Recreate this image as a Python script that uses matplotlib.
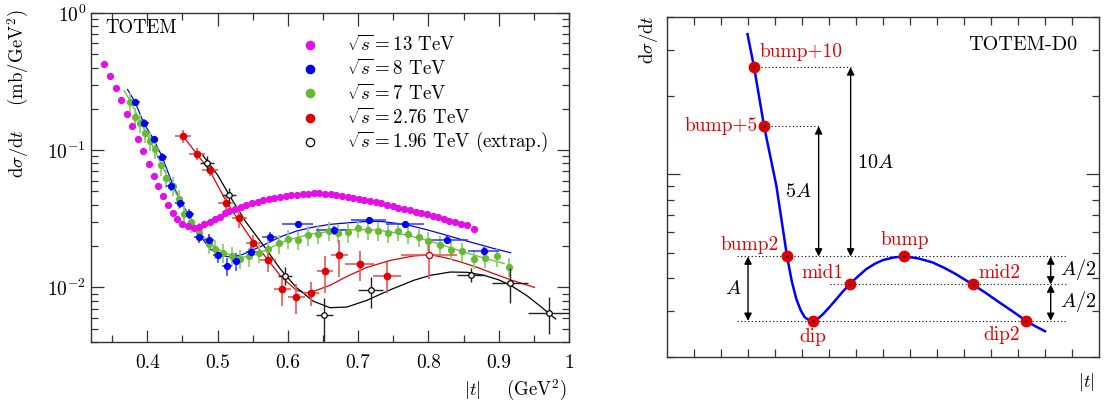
import numpy as np
import matplotlib
matplotlib.use("Agg")
import matplotlib.pyplot as plt
from matplotlib.ticker import FixedLocator, NullFormatter, LogLocator

plt.rcParams['font.family'] = ['cmr10', 'DejaVu Serif']
plt.rcParams['mathtext.fontset'] = 'cm'
plt.rcParams['axes.formatter.use_mathtext'] = True
plt.rcParams['axes.unicode_minus'] = False

# ---------------- data: left panel ----------------
t13 = [0.339, 0.347, 0.355, 0.363, 0.371, 0.379, 0.387, 0.394, 0.402, 0.410,
       0.416, 0.422, 0.429, 0.436, 0.443, 0.450, 0.458, 0.466, 0.474, 0.481,
       0.489, 0.496, 0.503, 0.510, 0.517, 0.525, 0.533, 0.541, 0.549, 0.557,
       0.565, 0.573, 0.581, 0.589, 0.597, 0.605, 0.613, 0.621, 0.629, 0.637,
       0.645, 0.653, 0.661, 0.669, 0.677, 0.685, 0.693, 0.701, 0.709, 0.717,
       0.725, 0.733, 0.741, 0.749, 0.757, 0.765, 0.774, 0.782, 0.790, 0.798,
       0.806, 0.814, 0.822, 0.830, 0.838, 0.846, 0.855, 0.865]
y13 = [0.425, 0.348, 0.285, 0.232, 0.185, 0.150, 0.121, 0.098, 0.079, 0.065,
       0.0546, 0.046, 0.040, 0.035, 0.0317, 0.0292, 0.0278, 0.0272, 0.0275, 0.029,
       0.030, 0.0313, 0.0326, 0.0347, 0.036, 0.0372, 0.0385, 0.0398, 0.041, 0.0421,
       0.0432, 0.0442, 0.045, 0.0457, 0.0465, 0.047, 0.0475, 0.048, 0.0483, 0.0484,
       0.0484, 0.0482, 0.0478, 0.0472, 0.0462, 0.0454, 0.0446, 0.0439, 0.0433, 0.0427,
       0.042, 0.041, 0.040, 0.039, 0.038, 0.0372, 0.0365, 0.0356, 0.0348, 0.034,
       0.0332, 0.0324, 0.0316, 0.0307, 0.0299, 0.0291, 0.0283, 0.0268]

t8 = [0.383, 0.395, 0.409, 0.421, 0.434, 0.447, 0.460, 0.474, 0.488, 0.500,
      0.513, 0.527, 0.548, 0.574, 0.614, 0.665, 0.715, 0.767, 0.827, 0.879]
y8 = [0.223, 0.158, 0.120, 0.0893, 0.0546, 0.0412, 0.0345, 0.0233, 0.0223, 0.0171,
      0.0142, 0.0155, 0.0181, 0.0233, 0.0288, 0.0261, 0.0310, 0.0288, 0.0223, 0.0183]
dt8 = [0.007, 0.007, 0.007, 0.007, 0.007, 0.007, 0.007, 0.007, 0.007, 0.007,
       0.007, 0.007, 0.008, 0.010, 0.022, 0.025, 0.025, 0.027, 0.030, 0.022]
ry8 = [0.06, 0.06, 0.06, 0.07, 0.08, 0.08, 0.08, 0.09, 0.09, 0.12,
       0.15, 0.15, 0.10, 0.08, 0.06, 0.07, 0.06, 0.06, 0.07, 0.08]

t7 = [0.376, 0.383, 0.390, 0.397, 0.404, 0.411, 0.419, 0.427, 0.436, 0.445,
      0.453, 0.462, 0.473, 0.488, 0.496, 0.508, 0.520, 0.532, 0.545, 0.559,
      0.572, 0.587, 0.600, 0.615, 0.629, 0.643, 0.659, 0.672, 0.686, 0.700,
      0.714, 0.728, 0.743, 0.757, 0.771, 0.786, 0.800, 0.817, 0.832, 0.848,
      0.865, 0.881, 0.898, 0.915]
y7 = [0.2254, 0.175, 0.158, 0.134, 0.117, 0.1028, 0.0778, 0.0631, 0.055, 0.0444,
      0.0345, 0.0299, 0.0254, 0.0208, 0.0191, 0.0178, 0.0170, 0.0162, 0.0168, 0.0178,
      0.0191, 0.0209, 0.0225, 0.0223, 0.0240, 0.0247, 0.0258, 0.0249, 0.0252, 0.0273,
      0.0264, 0.0258, 0.0251, 0.0259, 0.0245, 0.0233, 0.0219, 0.0203, 0.0188, 0.0183,
      0.0162, 0.0164, 0.0168, 0.0141]
ry7 = 0.16
dt7 = 0.004

t276 = [0.451, 0.471, 0.489, 0.512, 0.531, 0.551, 0.572, 0.592, 0.612, 0.633,
        0.653, 0.673, 0.702, 0.741]
y276 = [0.1265, 0.0946, 0.0723, 0.0412, 0.0320, 0.0210, 0.0159, 0.00977, 0.00851, 0.00912,
        0.0131, 0.0171, 0.0148, 0.0122]
dt276 = [0.011, 0.011, 0.011, 0.011, 0.011, 0.011, 0.011, 0.012, 0.012, 0.012,
         0.011, 0.012, 0.020, 0.020]
ry276 = [0.11, 0.10, 0.10, 0.15, 0.15, 0.15, 0.18, 0.25, 0.25, 0.20,
         0.30, 0.30, 0.25, 0.25]
t276_open = [0.801]
y276_open = [0.0171]
dt276_open = [0.040]
ry276_open = [0.33]

t196 = [0.485, 0.517, 0.596, 0.652, 0.718, 0.860, 0.916, 0.972]
y196 = [0.0809, 0.0470, 0.01216, 0.00625, 0.00951, 0.01239, 0.01074, 0.00653]
dt196 = [0.010, 0.010, 0.010, 0.012, 0.018, 0.020, 0.025, 0.030]
ry196 = [0.12, 0.12, 0.15, 0.35, 0.25, 0.12, 0.28, 0.30]

# fitted curves
fit8_t = [0.372, 0.383, 0.395, 0.409, 0.421, 0.434, 0.447, 0.460, 0.474, 0.489,
          0.505, 0.520, 0.536, 0.560, 0.589, 0.612, 0.636, 0.660, 0.684, 0.710,
          0.731, 0.750, 0.774, 0.798, 0.822, 0.846, 0.870, 0.893, 0.917]
fit8_y = [0.277, 0.223, 0.158, 0.120, 0.0902, 0.0603, 0.0427, 0.0331, 0.0245, 0.0191,
          0.0171, 0.0166, 0.0174, 0.0197, 0.0233, 0.0257, 0.0275, 0.0288, 0.0295, 0.0302,
          0.0303, 0.0295, 0.0282, 0.0263, 0.0243, 0.0224, 0.0207, 0.0192, 0.0179]
fit7_t = [0.367, 0.376, 0.390, 0.404, 0.419, 0.434, 0.445, 0.453, 0.462, 0.473,
          0.488, 0.508, 0.520, 0.534, 0.546, 0.560, 0.572, 0.588, 0.600, 0.615,
          0.631, 0.650, 0.679, 0.700, 0.727, 0.750, 0.774, 0.800, 0.822, 0.846,
          0.870, 0.890, 0.908]
fit7_y = [0.271, 0.229, 0.162, 0.1175, 0.0813, 0.0562, 0.0447, 0.0372, 0.0309, 0.0257,
          0.0211, 0.0180, 0.0171, 0.0166, 0.0168, 0.0178, 0.0191, 0.0209, 0.0221, 0.0232,
          0.0244, 0.0252, 0.0262, 0.0264, 0.0262, 0.0252, 0.0237, 0.0219, 0.0202, 0.0184,
          0.0169, 0.0158, 0.0149]
fit276_t = [0.451, 0.471, 0.489, 0.512, 0.531, 0.551, 0.572, 0.590, 0.612, 0.625,
            0.636, 0.660, 0.684, 0.712, 0.746, 0.779, 0.803, 0.825, 0.846, 0.870,
            0.893, 0.920, 0.951]
fit276_y = [0.1265, 0.0933, 0.0708, 0.0427, 0.0302, 0.0214, 0.01585, 0.01202, 0.00955, 0.00912,
            0.00933, 0.01035, 0.01202, 0.01396, 0.01574, 0.01694, 0.01730, 0.01641, 0.01531, 0.01396,
            0.01259, 0.01122, 0.0100]
fit196_t = [0.479, 0.500, 0.517, 0.540, 0.566, 0.589, 0.612, 0.636, 0.660, 0.684,
            0.712, 0.746, 0.779, 0.803, 0.831, 0.855, 0.879, 0.900, 0.917, 0.940,
            0.960, 0.981]
fit196_y = [0.0920, 0.0661, 0.0468, 0.0302, 0.0200, 0.01368, 0.0100, 0.00794, 0.00711, 0.00719,
            0.00803, 0.00962, 0.01125, 0.01225, 0.01294, 0.01288, 0.01225, 0.01135, 0.01035, 0.00871,
            0.00724, 0.00589]

legend_labels = [r'$\sqrt{s} = 13$ TeV', r'$\sqrt{s} = 8$ TeV', r'$\sqrt{s} = 7$ TeV',
                 r'$\sqrt{s} = 2.76$ TeV', r'$\sqrt{s} = 1.96$ TeV (extrap.)']
xticks_left = [0.4, 0.5, 0.6, 0.7, 0.8, 0.9, 1.0]
xticklabels_left = ['0.4', '0.5', '0.6', '0.7', '0.8', '0.9', '1']

# ---------------- data: right panel (schematic) ----------------
curve_x = [2.98, 3.225, 3.595, 4.05, 4.445, 4.62, 4.79, 4.95, 5.10, 5.25, 5.41,
           5.60, 5.78, 6.00, 6.27, 6.50, 6.76, 7.05, 7.38, 7.70, 8.00, 8.40,
           8.78, 9.30, 9.84, 10.30, 10.70, 11.32, 11.80, 12.30, 12.80, 13.30,
           13.65, 14.00]
curve_y = [3.44, 2.568, 1.527, 0.903, 0.485, 0.39, 0.333, 0.302, 0.284, 0.277, 0.275,
           0.281, 0.292, 0.309, 0.333, 0.355, 0.379, 0.405, 0.434, 0.455, 0.470, 0.481,
           0.485, 0.477, 0.460, 0.437, 0.415, 0.379, 0.352, 0.324, 0.299, 0.275,
           0.262, 0.251]
pt_names = ['bump+10', 'bump+5', 'bump2', 'dip', 'mid1', 'bump', 'mid2', 'dip2']
pt_x = [3.225, 3.595, 4.445, 5.41, 6.76, 8.78, 11.32, 13.30]
pt_y = [2.568, 1.527, 0.485, 0.275, 0.379, 0.485, 0.379, 0.275]

RED = '#e00000'
MAG = '#e60ee6'
BLUE = '#0000ff'
GREEN = '#66bb33'
GREEN_ERR = '#8fd16a'
RED_ERR = '#ee5555'

fig = plt.figure(figsize=(11.04, 4.05), dpi=100)

# ================= left panel =================
ax = fig.add_axes([0.0824, 0.1556, 0.4330, 0.8123])
ax.set_xscale('linear')
ax.set_yscale('log')

ax.plot(fit8_t, fit8_y, color=BLUE, lw=0.9, zorder=2)
ax.plot(fit7_t, fit7_y, color=GREEN, lw=0.9, zorder=2)
ax.plot(fit276_t, fit276_y, color=RED, lw=0.9, zorder=2)
ax.plot(fit196_t, fit196_y, color='black', lw=0.9, zorder=2)

y13a = np.array(y13)
ax.errorbar(t13, y13, xerr=0.0035, yerr=0.05 * y13a, fmt='o', ms=4.2, color=MAG,
            mec=MAG, ecolor=MAG, elinewidth=1.3, capsize=0, zorder=5)
y7a = np.array(y7)
ax.errorbar(t7, y7, xerr=dt7, yerr=ry7 * y7a, fmt='o', ms=4.2, color=GREEN, mec=GREEN,
            ecolor=GREEN_ERR, elinewidth=1.3, capsize=0, zorder=4)
y8a = np.array(y8)
ax.errorbar(t8, y8, xerr=dt8, yerr=np.array(ry8) * y8a, fmt='o', ms=4.2, color=BLUE,
            mec=BLUE, ecolor='#3333ff', elinewidth=1.1, capsize=0, zorder=4)
y276a = np.array(y276)
ax.errorbar(t276, y276, xerr=dt276, yerr=np.array(ry276) * y276a, fmt='o', ms=4.5,
            color=RED, mec=RED, ecolor=RED_ERR, elinewidth=1.2, capsize=0, zorder=4)
ax.errorbar(t276_open, y276_open, xerr=dt276_open,
            yerr=np.array(ry276_open) * np.array(y276_open), fmt='o', ms=4.5,
            color=RED, mfc='white', mec=RED, ecolor=RED_ERR, elinewidth=1.2,
            capsize=0, zorder=4)
y196a = np.array(y196)
ax.errorbar(t196, y196, xerr=dt196, yerr=np.array(ry196) * y196a, fmt='o', ms=4.0,
            color='black', mfc='white', mec='black', mew=0.9, ecolor='#222222',
            elinewidth=1.0, capsize=0, zorder=6)

ax.set_xlim(0.32, 1.0)
ax.set_ylim(0.004, 1.0)
ax.xaxis.set_major_locator(FixedLocator(xticks_left))
ax.set_xticklabels(xticklabels_left)
ax.xaxis.set_minor_locator(FixedLocator([0.35, 0.45, 0.55, 0.65, 0.75, 0.85, 0.95]))
ax.yaxis.set_major_locator(FixedLocator([0.01, 0.1, 1.0]))
ax.set_yticklabels([r'$10^{-2}$', r'$10^{-1}$', r'$10^{0}$'])
ax.yaxis.set_minor_locator(LogLocator(base=10, subs=np.arange(2, 10)))
ax.yaxis.set_minor_formatter(NullFormatter())
ax.tick_params(which='both', direction='in', top=True, right=True, labelsize=14,
               color='#333333', width=0.9)
ax.tick_params(which='major', length=9)
ax.tick_params(which='minor', length=5)
ax.tick_params(axis='x', pad=9)
for s in ax.spines.values():
    s.set_color('#333333')
    s.set_linewidth(1.0)

ax.set_ylabel(r'$\mathrm{d}\sigma/\mathrm{d}t$    (mb/GeV$^2$)', fontsize=13.5, loc='top')
ax.yaxis.set_label_coords(-0.125, 1.01)
ax.set_xlabel(r'$|t|$    (GeV$^2$)', fontsize=13.5, loc='right')
ax.xaxis.set_label_coords(0.995, -0.108)

ax.text(0.029, 0.954, 'TOTEM', transform=ax.transAxes, fontsize=13.5,
        ha='left', va='center')

leg_colors = [MAG, BLUE, GREEN, RED, 'white']
leg_edges = [MAG, BLUE, GREEN, RED, 'black']
for i, lab in enumerate(legend_labels):
    yy = 0.903 - i * 0.0738
    ax.plot([0.458], [yy], 'o', ms=6, color=leg_colors[i], mec=leg_edges[i],
            mew=0.9, transform=ax.transAxes, clip_on=False)
    ax.text(0.536, yy, lab, transform=ax.transAxes, fontsize=13.6, ha='left',
            va='center')

# ================= right panel =================
bx = fig.add_axes([0.6042, 0.1185, 0.3913, 0.8395])
bx.set_yscale('log')
bx.plot(curve_x, curve_y, color=BLUE, lw=1.8, zorder=3)

dip, bump, mid = pt_y[3], pt_y[5], pt_y[4]
b5, b10 = pt_y[1], pt_y[0]
dot = dict(color='black', lw=0.8, ls=(0, (1, 2.2)), zorder=1)
bx.plot([pt_x[0], 6.8], [b10, b10], **dot)
bx.plot([pt_x[1], 5.62], [b5, b5], **dot)
bx.plot([2.6, 14.83], [bump, bump], **dot)
bx.plot([6.02, 14.83], [mid, mid], **dot)
bx.plot([2.6, 14.83], [dip, dip], **dot)

bx.plot(pt_x, pt_y, 'o', ms=7.5, color=RED, zorder=5)
for x_, y_ in zip(pt_x, pt_y):
    bx.plot([x_], [y_], '.', ms=1.5, color='black', zorder=6)

arr = dict(arrowstyle='<|-|>', color='black', lw=1.0, mutation_scale=11,
           shrinkA=0, shrinkB=0)
for xa, ya, yb in [(3.0, dip, bump), (5.615, bump, b5), (6.80, bump, b10),
                   (14.21, mid, bump), (14.21, dip, mid)]:
    bx.annotate('', xy=(xa, yb), xytext=(xa, ya), arrowprops=arr, zorder=4)

bx.text(2.45, 0.364, r'$A$', fontsize=14.5, ha='center', va='center')
bx.text(4.85, 0.856, r'$5A$', fontsize=14.5, ha='center', va='center')
bx.text(7.72, 1.108, r'$10A$', fontsize=14.5, ha='center', va='center')
bx.text(14.55, 0.432, r'$A/2$', fontsize=14.5, ha='left', va='center')
bx.text(14.55, 0.326, r'$A/2$', fontsize=14.5, ha='left', va='center')

lab_pos = {'bump+10': (4.97, 2.93, 'center'), 'bump+5': (3.35, 1.527, 'right'),
           'bump2': (3.07, 0.537, 'center'), 'dip': (5.41, 0.238, 'center'),
           'mid1': (5.75, 0.419, 'center'), 'bump': (8.79, 0.562, 'center'),
           'mid2': (12.3, 0.419, 'center'), 'dip2': (12.4, 0.243, 'center')}
for name in pt_names:
    lx, ly, ha = lab_pos[name]
    bx.text(lx, ly, name, color=RED, fontsize=14, ha=ha, va='center')

bx.text(15.2, 3.13, 'TOTEM-D0', fontsize=14.5, ha='right', va='center')

bx.set_xlim(0, 16)
bx.set_ylim(0.2, 4.0)
bx.xaxis.set_major_locator(FixedLocator(list(range(1, 16))))
bx.xaxis.set_major_formatter(NullFormatter())
bx.yaxis.set_major_locator(FixedLocator([1.0]))
bx.yaxis.set_major_formatter(NullFormatter())
bx.yaxis.set_minor_locator(LogLocator(base=10, subs=np.arange(2, 10)))
bx.yaxis.set_minor_formatter(NullFormatter())
bx.tick_params(which='both', direction='in', top=True, right=True,
               color='#333333', width=0.9)
bx.tick_params(axis='x', which='major', length=6)
bx.tick_params(axis='y', which='major', length=9.5)
bx.tick_params(axis='y', which='minor', length=5)
for s in bx.spines.values():
    s.set_color('#333333')
    s.set_linewidth(1.0)
bx.set_ylabel(r'$\mathrm{d}\sigma/\mathrm{d}t$', fontsize=13.5, loc='top')
bx.yaxis.set_label_coords(-0.016, 1.005)
bx.set_xlabel(r'$|t|$', fontsize=13.5, loc='right')
bx.xaxis.set_label_coords(0.99, -0.04)

fig.savefig('out.png', dpi=100)
